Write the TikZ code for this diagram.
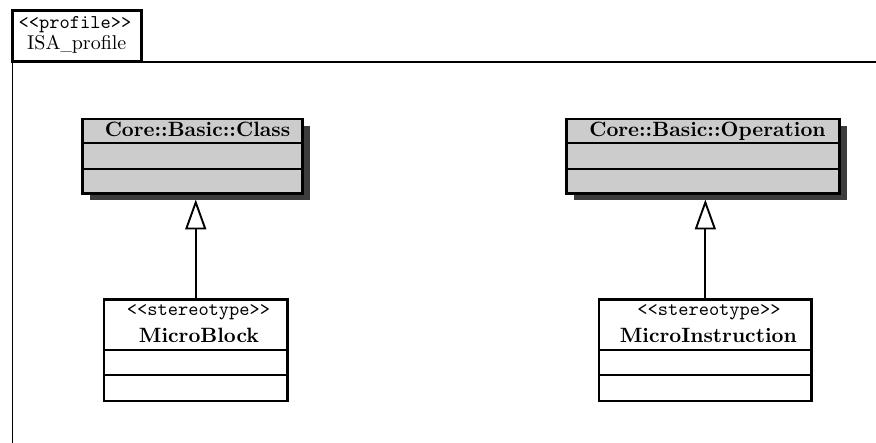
\documentclass[tikz,border=0pt]{standalone}
\usepackage{graphicx}
\usetikzlibrary{arrows.meta,shadows}
\definecolor{metafill}{HTML}{CCCCCC}
\definecolor{metashadow}{HTML}{3C3C3C}
% 10pt designs enlarged, so the strokes keep their weight
\newcommand{\nametext}[1]{\scalebox{2.07}{\normalsize\bfseries #1}}
\newcommand{\stereotext}[1]{\scalebox{1.95}{\normalsize\ttfamily #1}}
\newcommand{\plaintext}[1]{\scalebox{2}{\normalsize\rmfamily #1}}
\newcommand{\shortus}{\scalebox{0.75}[1]{\_}}
\tikzset{
  classbox/.style={draw, line width=2.5pt, inner sep=0pt, outer sep=0pt, anchor=north west, fill=white},
  metaclass/.style={classbox, fill=metafill,
    drop shadow={opacity=1, fill=metashadow, shadow xshift=7pt, shadow yshift=-7pt}},
  divider/.style={line width=2pt},
  txt/.style={inner sep=0pt, outer sep=0pt, anchor=base},
  generalization/.style={line width=1.9pt,
    -{Triangle[open, length=30pt, width=21pt, fill=white]}},
  frameline/.style={line width=1.8pt},
}
\begin{document}
\begin{tikzpicture}[x=1pt, y=-1pt]
\useasboundingbox (0,0) rectangle (876,443);

% profile frame with its name tab
\node[classbox, line width=2.7pt, minimum width=128.8pt, minimum height=51pt] (tab) at (12.5,10.7) {};
\node[txt] (tabstereo) at (75,28.5) {\stereotext{<<profile>>}};
\node[txt] (tabname) at (76.8,50) {\plaintext{ISA\shortus profile}};
\coordinate (frameright) at (876,61.7);
\coordinate (framebottom) at (12.5,443);
\draw[frameline] (tab.south east) -- (frameright);
\draw[frameline] (tab.south west) -- (framebottom);

% metaclasses
\node[metaclass, minimum width=220pt, minimum height=74.5pt] (cls) at (82.5,119) {};
\draw[divider] ([yshift=-24.5pt]cls.north west) -- ([yshift=-24.5pt]cls.north east);
\draw[divider] ([yshift=-50pt]cls.north west) -- ([yshift=-50pt]cls.north east);
\node[txt] (clsname) at (197.5,136.5) {\nametext{Core::Basic::Class}};

\node[metaclass, minimum width=273pt, minimum height=74.5pt] (op) at (566.5,119) {};
\draw[divider] ([yshift=-24.5pt]op.north west) -- ([yshift=-24.5pt]op.north east);
\draw[divider] ([yshift=-50pt]op.north west) -- ([yshift=-50pt]op.north east);
\node[txt] (opname) at (707.5,136.5) {\nametext{Core::Basic::Operation}};

% stereotypes
\node[classbox, minimum width=183.5pt, minimum height=101.5pt] (mb) at (104,299.5) {};
\draw[divider] ([yshift=-51pt]mb.north west) -- ([yshift=-51pt]mb.north east);
\draw[divider] ([yshift=-75.2pt]mb.north west) -- ([yshift=-75.2pt]mb.north east);
\node[txt] (mbstereo) at (198.5,316) {\stereotext{<<stereotype>>}};
\node[txt] (mbname) at (199,342.5) {\nametext{MicroBlock}};

\node[classbox, minimum width=212.7pt, minimum height=101.5pt] (mi) at (599,299.5) {};
\draw[divider] ([yshift=-51pt]mi.north west) -- ([yshift=-51pt]mi.north east);
\draw[divider] ([yshift=-75.2pt]mi.north west) -- ([yshift=-75.2pt]mi.north east);
\node[txt] (mistereo) at (709,316) {\stereotext{<<stereotype>>}};
\node[txt] (miname) at (708.3,342.5) {\nametext{MicroInstruction}};

% extensions
\draw[generalization, shorten >=6pt] (mb.north) -- (mb.north |- cls.south);
\draw[generalization, shorten >=6pt] (mi.north) -- (mi.north |- op.south);
\end{tikzpicture}
\end{document}
